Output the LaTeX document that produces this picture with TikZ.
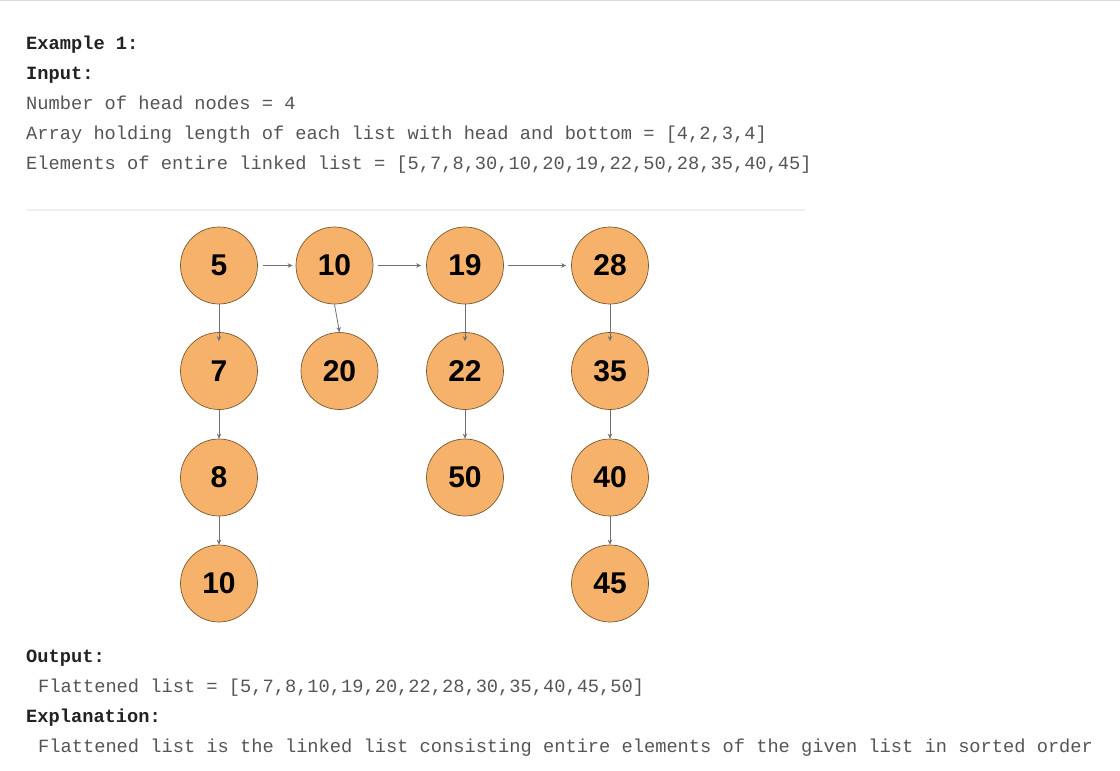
\documentclass[tikz,border=0pt]{standalone}
\usepackage{fontspec}
\setmonofont{Liberation Mono}
\newfontfamily\numfont{Liberation Sans}
\usetikzlibrary{arrows.meta}
\definecolor{nodefill}{HTML}{F6B26B}
\definecolor{nodeedge}{HTML}{7A5A30}
\definecolor{txtgray}{HTML}{555555}
\definecolor{txtdark}{HTML}{222222}
\definecolor{arrgray}{HTML}{707070}
\tikzset{
  txt/.style={anchor=base west, inner sep=0pt, text=txtgray, font=\ttfamily\fontsize{18.7}{22}\selectfont},
  hdr/.style={txt, text=txtdark, font=\ttfamily\bfseries\fontsize{18.7}{22}\selectfont},
  lnode/.style={circle, minimum size=77pt, inner sep=0pt, fill=nodefill, draw=nodeedge, line width=0.7pt,
    font=\numfont\bfseries\fontsize{30}{30}\selectfont},
  link/.style={-{Stealth[length=5pt,width=4.5pt]}, draw=arrgray, line width=0.8pt},
}
\begin{document}
\begin{tikzpicture}[x=1pt,y=-1pt]
\useasboundingbox (0,0) rectangle (1120,771);
\fill[white] (0,0) rectangle (1120,771);
\draw[line width=1.2pt, draw=black!15] (0,0.6) -- (1120,0.6);
\draw[line width=1.5pt, draw=black!6] (26,210) -- (805,210);

\node[hdr] (t1) at (26,49) {Example 1:};
\node[hdr] (t2) at (26,79) {Input:};
\node[txt] (t3) at (26,109) {Number of head nodes = 4};
\node[txt] (t4) at (26,139) {Array holding length of each list with head and bottom = [4,2,3,4]};
\node[txt] (t5) at (26,169) {Elements of entire linked list = [5,7,8,30,10,20,19,22,50,28,35,40,45]};

\node[hdr] (b1) at (26,662) {Output:};
\node[txt] (b2) at (38,692) {Flattened list = [5,7,8,10,19,20,22,28,30,35,40,45,50]};
\node[hdr] (b3) at (26,722) {Explanation:};
\node[txt] (b4) at (38,752) {Flattened list is the linked list consisting entire elements of the given list in sorted order};

\node[lnode] (n5) at (219,265.5) {5};
\node[lnode] (n7) at (219,371) {7};
\node[lnode] (n8) at (219,477.5) {8};
\node[lnode] (n10b) at (219,583.5) {10};
\node[lnode] (n10) at (334.5,265.5) {10};
\node[lnode] (n20) at (339.5,371) {20};
\node[lnode] (n19) at (465,265.5) {19};
\node[lnode] (n22) at (465,371) {22};
\node[lnode] (n50) at (465,477.5) {50};
\node[lnode] (n28) at (610,265.5) {28};
\node[lnode] (n35) at (610,371) {35};
\node[lnode] (n40) at (610,477.5) {40};
\node[lnode] (n45) at (610,583.5) {45};

\draw[link, shorten <=5pt, shorten >=3pt] (n5) -- (n10);
\draw[link, shorten <=5pt, shorten >=5pt] (n10) -- (n19);
\draw[link, shorten <=4pt, shorten >=5pt] (n19) -- (n28);

\draw[link, shorten >=-9pt] (n5.south) -- (n7.north);
\draw[link] (n7.south) -- (n8.north);
\draw[link] (n8.south) -- (n10b.north);
\draw[link] (n10.south) -- (n20.north);
\draw[link, shorten >=-9pt] (n19.south) -- (n22.north);
\draw[link] (n22.south) -- (n50.north);
\draw[link, shorten >=-9pt] (n28.south) -- (n35.north);
\draw[link] (n35.south) -- (n40.north);
\draw[link] (n40.south) -- (n45.north);
\end{tikzpicture}
\end{document}
